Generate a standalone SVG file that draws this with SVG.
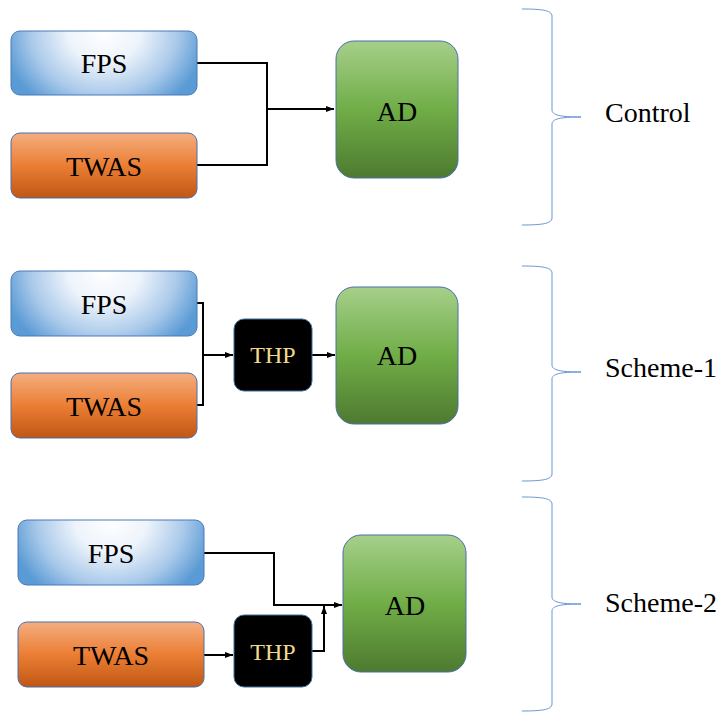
<svg xmlns="http://www.w3.org/2000/svg" width="722" height="713" viewBox="0 0 722 713">
<defs>
<radialGradient id="gFPS" cx="0.5" cy="0" r="1" fx="0.5" fy="0" gradientTransform="translate(0.5,0) scale(0.55,1.4) translate(-0.5,0)">
<stop offset="0" stop-color="#FFFFFF"/>
<stop offset="0.35" stop-color="#EEF4FB"/>
<stop offset="0.72" stop-color="#A9C9EA"/>
<stop offset="1" stop-color="#5B9BD5"/>
</radialGradient>
<linearGradient id="gTWAS" x1="0" y1="0" x2="0" y2="1">
<stop offset="0" stop-color="#F4AE80"/>
<stop offset="0.5" stop-color="#EB7E34"/>
<stop offset="1" stop-color="#BF5714"/>
</linearGradient>
<linearGradient id="gAD" x1="0" y1="0" x2="0" y2="1">
<stop offset="0" stop-color="#A6CF8A"/>
<stop offset="0.5" stop-color="#70AD47"/>
<stop offset="1" stop-color="#4E7A30"/>
</linearGradient>
<marker id="arr" markerUnits="userSpaceOnUse" markerWidth="8" markerHeight="6" refX="8" refY="3" orient="auto">
<path d="M0,0 L8,3 L0,6 z" fill="#000"/>
</marker>
</defs>
<style>
.fps{fill:url(#gFPS);stroke:#4A78B8;stroke-width:1}
.twas{fill:url(#gTWAS);stroke:#4A6FA8;stroke-width:1}
.ad{fill:url(#gAD);stroke:#4A6FA8;stroke-width:1}
.thp{fill:#000;stroke:#41719C;stroke-width:1}
text{font-family:'Liberation Serif','Times New Roman','DejaVu Serif',serif}
.lbl{font-size:28px;fill:#000;text-anchor:middle}
.thpt{font-size:24px;fill:#F2D98C;text-anchor:middle}
.grp{font-size:28px;fill:#000}
.wire{fill:none;stroke:#000;stroke-width:2}
.brace{fill:none;stroke:#6C93DA;stroke-width:1}
</style>

<g id="connectors">
<path class="wire" d="M197,63 H267 V165 H197"/>
<path class="wire" d="M267,109 H334" marker-end="url(#arr)"/>
<path class="wire" d="M197,303 H203 V405 H197"/>
<path class="wire" d="M203,355 H233" marker-end="url(#arr)"/>
<path class="wire" d="M312,355 H335" marker-end="url(#arr)"/>
<path class="wire" d="M204,553 H274 V605 H342" marker-end="url(#arr)"/>
<path class="wire" d="M204,655 H233" marker-end="url(#arr)"/>
<path class="wire" d="M312,651 H324 V606" marker-end="url(#arr)"/>
</g>

<g id="control-fps"><rect class="fps" x="11" y="31" width="186" height="64" rx="9"/><text class="lbl" x="104" y="73" font-family="Liberation Serif, serif">FPS</text></g>
<g id="control-twas"><rect class="twas" x="11" y="133" width="186" height="65" rx="9"/><text class="lbl" x="104" y="176" font-family="Liberation Serif, serif">TWAS</text></g>
<g id="control-ad"><rect class="ad" x="336" y="41" width="122" height="137" rx="18"/><text class="lbl" x="397" y="121" font-family="Liberation Serif, serif">AD</text></g>

<g id="s1-fps"><rect class="fps" x="11" y="271" width="186" height="65" rx="9"/><text class="lbl" x="104" y="314" font-family="Liberation Serif, serif">FPS</text></g>
<g id="s1-twas"><rect class="twas" x="11" y="373" width="186" height="65" rx="9"/><text class="lbl" x="104" y="416" font-family="Liberation Serif, serif">TWAS</text></g>
<g id="s1-thp"><rect class="thp" x="234" y="319" width="78" height="72" rx="10"/><text class="thpt" x="273" y="363" font-family="Liberation Serif, serif">THP</text></g>
<g id="s1-ad"><rect class="ad" x="336" y="287" width="122" height="137" rx="18"/><text class="lbl" x="397" y="365" font-family="Liberation Serif, serif">AD</text></g>

<g id="s2-fps"><rect class="fps" x="18" y="520" width="186" height="65" rx="9"/><text class="lbl" x="111" y="563" font-family="Liberation Serif, serif">FPS</text></g>
<g id="s2-twas"><rect class="twas" x="18" y="622" width="186" height="65" rx="9"/><text class="lbl" x="111" y="665" font-family="Liberation Serif, serif">TWAS</text></g>
<g id="s2-thp"><rect class="thp" x="234" y="615" width="78" height="72" rx="10"/><text class="thpt" x="273" y="660" font-family="Liberation Serif, serif">THP</text></g>
<g id="s2-ad"><rect class="ad" x="343" y="535" width="123" height="137" rx="18"/><text class="lbl" x="405" y="615" font-family="Liberation Serif, serif">AD</text></g>

<g id="brace-control">
<path class="brace" d="M522,9 C540,9 552,10 552,16 L552,110 C552,115 560,117 581,117 C560,117 552,119 552,124 L552,218 C552,224 540,225 522,225"/>
<text class="grp" x="605" y="122" font-family="Liberation Serif, serif">Control</text>
</g>
<g id="brace-s1">
<path class="brace" d="M522,266 C540,266 552,267 552,273 L552,365 C552,370 560,372 581,372 C560,372 552,374 552,379 L552,474 C552,480 540,481 522,481"/>
<text class="grp" x="605" y="377" font-family="Liberation Serif, serif">Scheme-1</text>
</g>
<g id="brace-s2">
<path class="brace" d="M522,497 C540,497 552,498 552,504 L552,597 C552,602 560,604 581,604 C560,604 552,606 552,611 L552,704 C552,710 540,711 522,711"/>
<text class="grp" x="605" y="612" font-family="Liberation Serif, serif">Scheme-2</text>
</g>
</svg>
